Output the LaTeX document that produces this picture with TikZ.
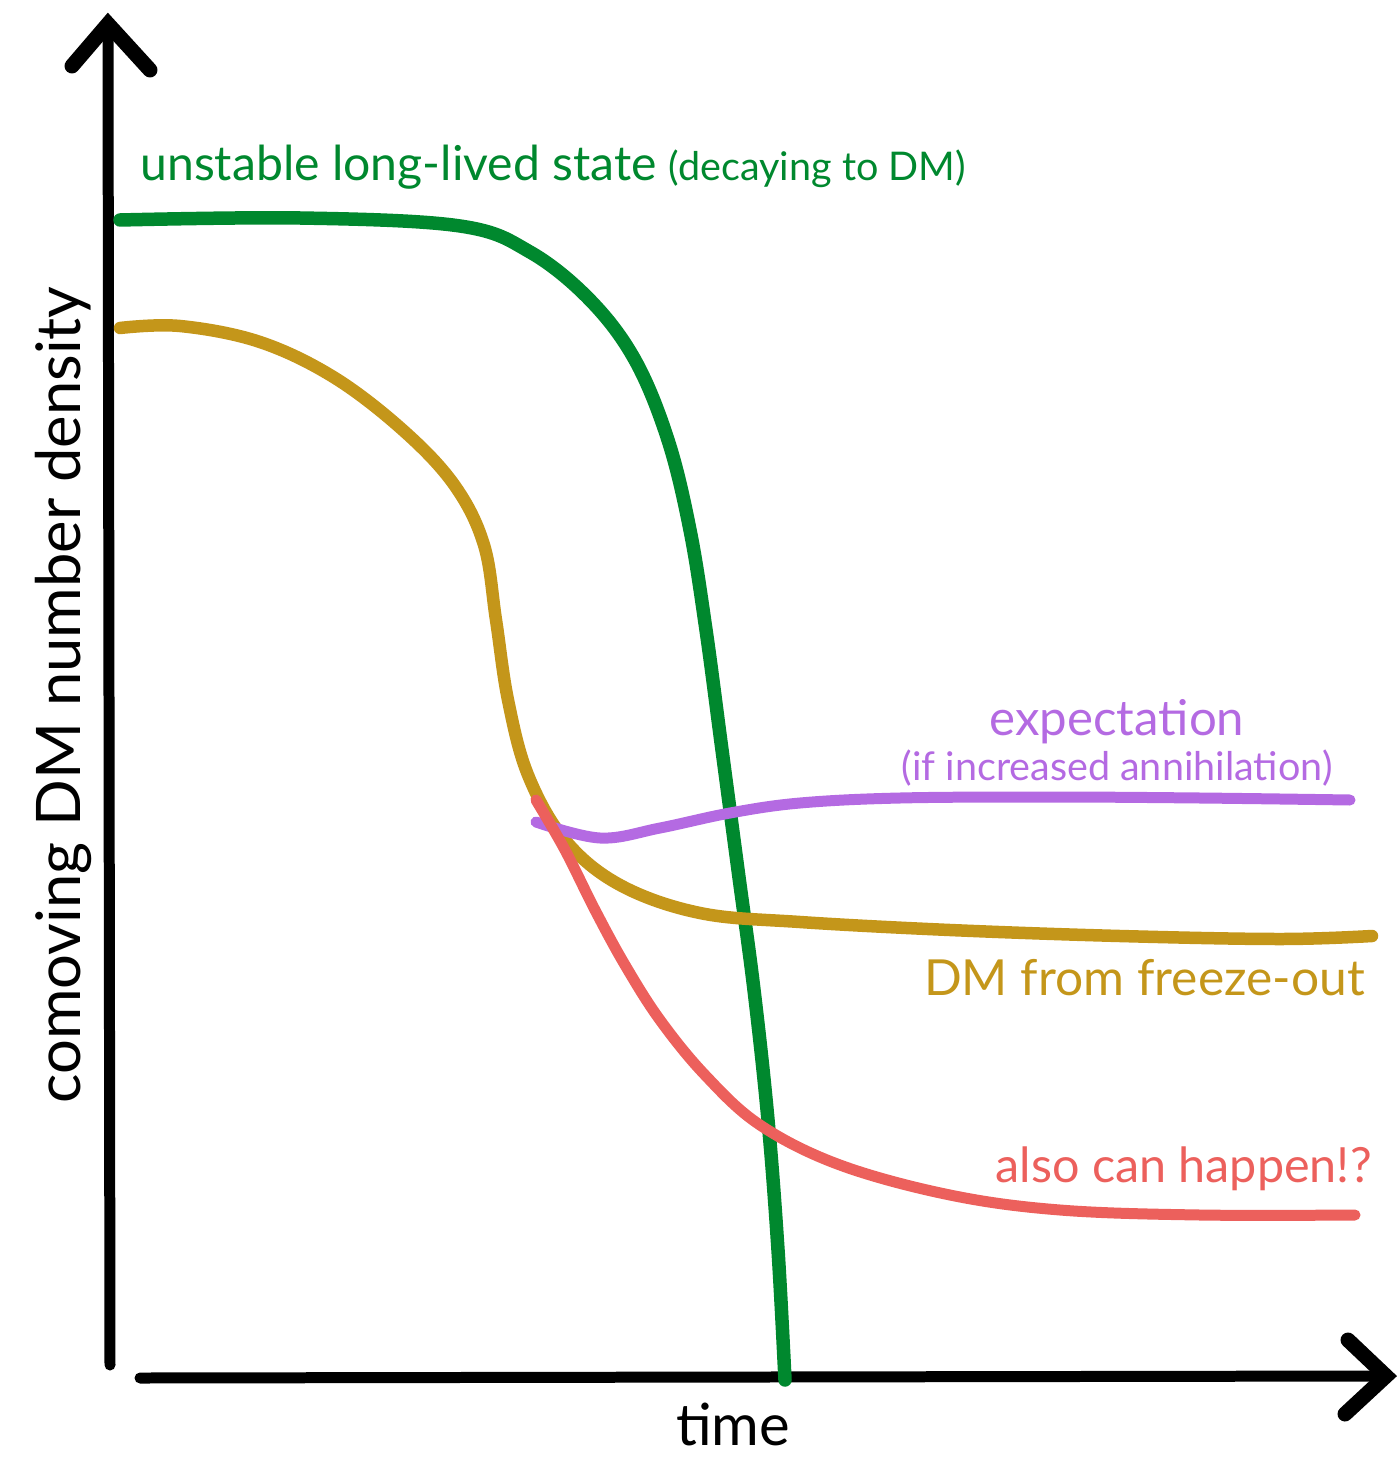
\documentclass[tikz,border=0pt]{standalone}
\usepackage{fontspec}
\setmainfont{Lato}
\usetikzlibrary{positioning}
\definecolor{dmgreen}{RGB}{0,136,46}
\definecolor{dmgold}{RGB}{196,150,26}
\definecolor{dmpurple}{RGB}{180,106,226}
\definecolor{dmred}{RGB}{236,96,92}

\begin{document}
\begin{tikzpicture}[x=0.02cm,y=-0.02cm,
                    chalk/.style={line width=#1,line cap=round,line join=round},
                    axis line/.style={chalk=0.22cm,black},
                    tip/.style={line width=0.3cm,line cap=round,line join=miter,black},
                    txt/.style={inner sep=0pt}]
  \useasboundingbox (0,0) rectangle (1396,1459);

  % axes
  \coordinate (origin) at (110,1365);
  \coordinate (ytop) at (108,30);
  \coordinate (xend) at (1380,1376);
  \draw[axis line] (origin) -- (ytop);
  \draw[axis line] (140,1378) -- (xend);
  \draw[tip] (72,66) -- (108,24) -- (150,70);
  \draw[tip] (1348,1340) -- (1386,1376) -- (1345,1414);

  % curves
  \draw[chalk=0.27cm,dmgreen] plot[smooth,tension=0.6] coordinates {
    (120,220) (300,218) (460,226) (530,252) (590,300) (635,360) (668,440)
    (690,530) (706,630) (722,750) (738,870) (754,990) (768,1120) (778,1250) (785,1380)};
  \draw[chalk=0.25cm,dmgold] plot[smooth,tension=0.6] coordinates {
    (120,328) (180,326) (260,342) (335,378) (405,432) (455,486) (484,545)
    (496,620) (508,700) (528,775) (565,840) (620,885) (700,913) (800,922)
    (950,930) (1120,936) (1280,939) (1372,936)};
  \draw[chalk=0.22cm,dmpurple] plot[smooth,tension=0.6] coordinates {
    (536,822) (600,838) (660,828) (730,813) (800,803) (900,798)
    (1050,797) (1200,798) (1350,800)};
  \draw[chalk=0.22cm,dmred] plot[smooth,tension=0.6] coordinates {
    (536,800) (565,850) (595,910) (625,965) (660,1020) (705,1075)
    (760,1125) (840,1165) (950,1195) (1060,1210) (1200,1215) (1355,1215)};

  % labels
  \node[txt,anchor=base west,text=dmgreen] (unstable) at (140,181)
    {\fontsize{27.4}{32}\selectfont unstable long-lived state
     {\fontsize{22.5}{26}\selectfont (decaying to DM)}};
  \node[txt,rotate=90,anchor=base] (ylabel) at (80,695)
    {\fontsize{35}{40}\selectfont comoving DM number density};
  \node[txt,anchor=base] (xlabel) at (733,1445)
    {\fontsize{33}{38}\selectfont time};
  \node[txt,anchor=base,text=dmpurple] (expect) at (1117,735)
    {\fontsize{28}{32}\selectfont expectation};
  \node[txt,anchor=base,text=dmpurple] (annih) at (1117,780)
    {\fontsize{22.5}{26}\selectfont (if increased annihilation)};
  \node[txt,anchor=base east,text=dmgold] (freeze) at (1365,995)
    {\fontsize{28.3}{32}\selectfont DM from freeze-out};
  \node[txt,anchor=base east,text=dmred] (happen) at (1372,1182)
    {\fontsize{27.6}{32}\selectfont also can happen!?};
\end{tikzpicture}
\end{document}
